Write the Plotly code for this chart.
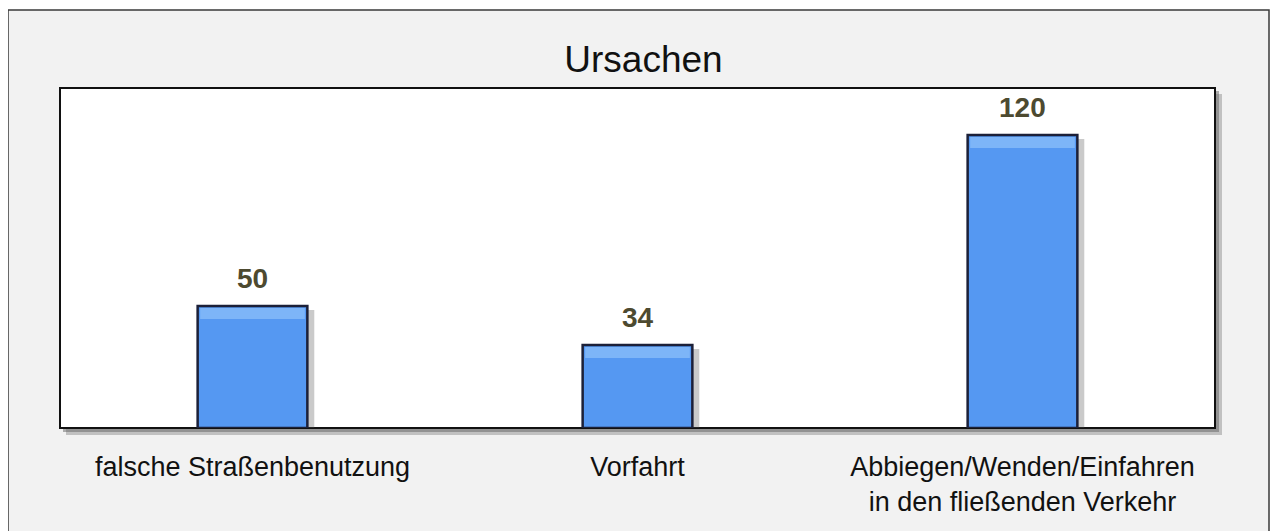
import plotly.graph_objects as go

categories = ["falsche Straßenbenutzung", "Vorfahrt", "Abbiegen/Wenden/Einfahren<br>in den fließenden Verkehr"]
values = [50, 34, 120]
title_text = "Ursachen"

# figure is placed at an 8px page offset by the browser's body margin
W, H = 1271, 523
L, R, T, B = 52, 64, 80, 103
pw, ph = W - L - R, H - T - B
YMAX = 139.3

def px_x(p):
    return (p - L) / pw

def px_y(p):
    return (H - B - p) / ph

FONT = "Liberation Sans, Arial, sans-serif"
bar_w = 0.285
cat_px = pw / len(categories)
dy = YMAX / ph  # data units per pixel

fig = go.Figure()
# soft bar shadow
fig.add_trace(go.Bar(
    x=categories, y=[v - 4 * dy for v in values],
    marker=dict(color="rgba(80,80,80,0.3)", line=dict(width=0)),
    width=bar_w + 0.01, offset=-bar_w / 2 + 0.008,
    hoverinfo="skip",
))
fig.add_trace(go.Bar(
    x=categories, y=values,
    marker=dict(color="#5598f2", line=dict(color="#1c2038", width=2.5)),
    width=bar_w,
    hoverinfo="skip",
))
# bevel highlight along the top of each bar
inner_w = bar_w - 5 / cat_px
fig.add_trace(go.Bar(
    x=categories, y=[11 * dy for v in values], base=[v - 13 * dy for v in values],
    marker=dict(color="#7db5f8", line=dict(width=0)),
    width=inner_w,
    hoverinfo="skip",
))

for c, v in zip(categories, values):
    fig.add_annotation(x=c, y=v, text=f"<b>{v}</b>", showarrow=False,
                       yanchor="bottom", yshift=10,
                       font=dict(family=FONT, size=28, color="#4d4a30"))

shapes = [
    # outer panel
    dict(type="rect", xref="paper", yref="paper", x0=px_x(0), x1=px_x(1261), y0=px_y(560), y1=px_y(2),
         fillcolor="#f2f2f2", line=dict(color="#3a3a3a", width=1.5), layer="below"),
    # plot shadow
    dict(type="rect", xref="paper", yref="paper", x0=px_x(58), x1=px_x(1214), y0=px_y(427), y1=px_y(86),
         fillcolor="rgba(120,120,120,0.4)", line=dict(width=0), layer="below"),
    dict(type="rect", xref="paper", yref="paper", x0=px_x(55), x1=px_x(1211), y0=px_y(424), y1=px_y(83),
         fillcolor="rgba(100,100,100,0.5)", line=dict(width=0), layer="below"),
    # plot area
    dict(type="rect", xref="paper", yref="paper", x0=0, x1=1, y0=0, y1=1,
         fillcolor="white", line=dict(color="#111111", width=2), layer="below"),
]

fig.update_layout(
    width=W, height=H,
    margin=dict(l=L, r=R, t=T, b=B),
    paper_bgcolor="white",
    plot_bgcolor="rgba(0,0,0,0)",
    shapes=shapes,
    showlegend=False,
    barmode="overlay",
    title=dict(text=title_text, x=0.5, xanchor="center", y=1 - 51 / H, yanchor="middle",
               font=dict(family=FONT, size=37, color="#111111")),
    font=dict(family=FONT, color="#111111"),
)
fig.update_xaxes(showgrid=False, zeroline=False, showline=False, ticks="",
                 tickfont=dict(size=27, color="#111111"), ticklabelstandoff=20)
fig.update_yaxes(range=[0, YMAX], showgrid=False, zeroline=False, showline=False,
                 showticklabels=False, ticks="")

fig.write_html("out.html")
